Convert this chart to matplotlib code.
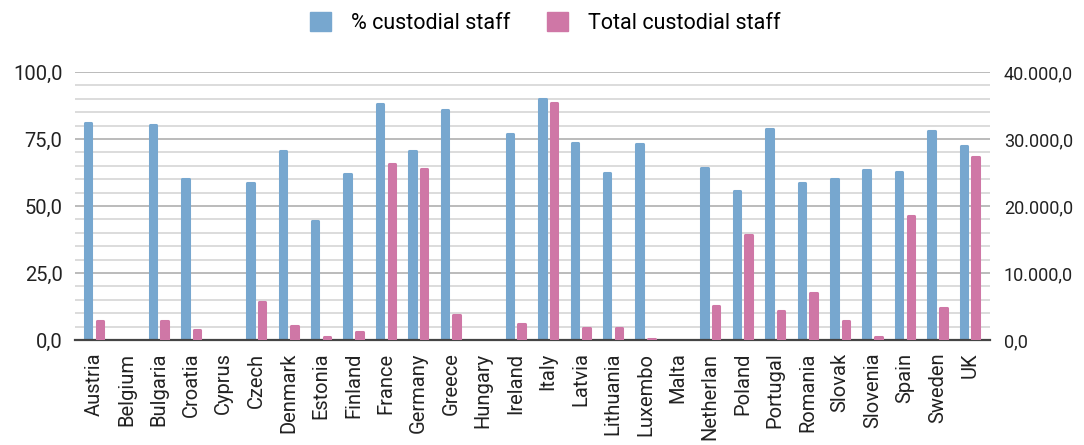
import numpy as np
import matplotlib
matplotlib.use('Agg')
import matplotlib.pyplot as plt
from matplotlib.ticker import MultipleLocator, FuncFormatter

plt.rcParams['font.family'] = ['Roboto', 'DejaVu Sans']

countries = ['Austria', 'Belgium', 'Bulgaria', 'Croatia', 'Cyprus', 'Czech',
             'Denmark', 'Estonia', 'Finland', 'France', 'Germany', 'Greece',
             'Hungary', 'Ireland', 'Italy', 'Latvia', 'Lithuania', 'Luxembo',
             'Malta', 'Netherlan', 'Poland', 'Portugal', 'Romania', 'Slovak',
             'Slovenia', 'Spain', 'Sweden', 'UK']
# % custodial staff (left axis), 0 where no bar is drawn
pct_custodial = [80.9, 0, 80.1, 60.0, 0, 58.7,
                 70.4, 44.5, 61.9, 87.9, 70.5, 85.8,
                 0, 76.9, 89.9, 73.4, 62.2, 73.1,
                 0, 64.1, 55.7, 78.6, 58.7, 60.0,
                 63.4, 62.7, 78.0, 72.4]
# total custodial staff (right axis)
total_custodial = [2880, 0, 2880, 1490, 0, 5670,
                   2090, 400, 1240, 26220, 25470, 3680,
                   0, 2340, 35420, 1760, 1740, 200,
                   0, 5070, 15670, 4300, 7060, 2880,
                   400, 18510, 4820, 27360]

blue = '#77A7CF'
pink = '#CF77A6'

fig = plt.figure(figsize=(10.84, 4.45), dpi=100)
ax = fig.add_axes([75 / 1084, 105 / 445, 915 / 1084, 268 / 445])
ax2 = ax.twinx()

x = np.arange(len(countries))
off = 0.18
w = 0.2
ax.bar(x - off, pct_custodial, width=w, color=blue, edgecolor=blue,
       linewidth=[2.2 if v > 0 else 0 for v in pct_custodial],
       joinstyle='round', zorder=3)
ax2.bar(x + off, total_custodial, width=w, color=pink, edgecolor=pink,
        linewidth=[2.2 if v > 0 else 0 for v in total_custodial],
        joinstyle='round', zorder=3)

ax.set_xlim(-0.586, 27.62)
ax.set_ylim(0, 100)
ax2.set_ylim(0, 40000)

ax.yaxis.set_major_locator(MultipleLocator(25))
ax.yaxis.set_minor_locator(MultipleLocator(5))
ax2.yaxis.set_major_locator(MultipleLocator(10000))

ax.yaxis.set_major_formatter(FuncFormatter(lambda v, p: f'{v:.1f}'.replace('.', ',')))
ax2.yaxis.set_major_formatter(
    FuncFormatter(lambda v, p: f'{v:,.1f}'.replace(',', 'X').replace('.', ',').replace('X', '.')))

ax.set_axisbelow(True)
ax.grid(axis='y', which='major', color='#b5b5b5', linewidth=1.3)
ax.grid(axis='y', which='minor', color='#d2d2d2', linewidth=1.1)
ax.grid(axis='x', visible=False)

for a in (ax, ax2):
    for s in ('top', 'left', 'right', 'bottom'):
        a.spines[s].set_visible(False)
    a.tick_params(axis='both', which='both', length=0, colors='#222222')
ax.axhline(0, color='#444444', linewidth=1.6, zorder=5, clip_on=False)

ax.set_xticks(x)
ax.set_xticklabels(countries, rotation=90, fontsize=14.5)
ax.tick_params(axis='x', pad=9)
ax.tick_params(axis='y', pad=9, labelsize=14.5)
ax2.tick_params(axis='y', pad=10, labelsize=13)

handles = [plt.Rectangle((0, 0), 1, 1, color=blue), plt.Rectangle((0, 0), 1, 1, color=pink)]
fig.legend(handles, ['% custodial staff', 'Total custodial staff'], loc='center',
           bbox_to_anchor=(545 / 1084, 1 - 23 / 445), ncol=2, frameon=False,
           fontsize=15.5, handlelength=1.0, handleheight=1.0, handletextpad=0.9,
           columnspacing=1.7)

fig.savefig('out.png', dpi=100)
